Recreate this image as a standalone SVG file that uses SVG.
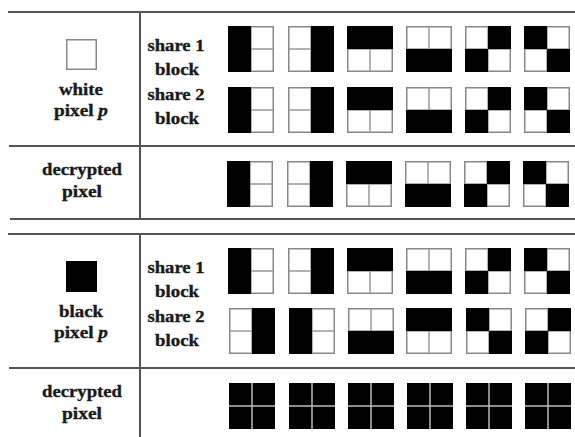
<svg xmlns="http://www.w3.org/2000/svg" xmlns:xlink="http://www.w3.org/1999/xlink" width="575" height="437" viewBox="0 0 575 437">
<style>
.t{font-family:"Liberation Serif","Times New Roman",serif;font-weight:bold;font-size:17px;fill:#1a1a1a;stroke:#1a1a1a;stroke-width:0.35;text-anchor:middle}
.rule{stroke:#555;stroke-width:2;fill:none}
.frame{fill:#fff;stroke:#888;stroke-width:1.5}
.grid{stroke:#999;stroke-width:1.5}
.lgrid{stroke:#bbb;stroke-width:1.5}
.k{fill:#000}
</style>
<defs>
<g id="base"><rect class="frame" x="0.75" y="0.75" width="44.5" height="44.5"/><line class="grid" x1="23" y1="0.75" x2="23" y2="45.25"/><line class="grid" x1="0.75" y1="23" x2="45.25" y2="23"/></g>
<g id="pL"><use href="#base"/><rect class="k" x="0" y="0" width="23" height="46"/></g>
<g id="pR"><use href="#base"/><rect class="k" x="23" y="0" width="23" height="46"/></g>
<g id="pT"><use href="#base"/><rect class="k" x="0" y="0" width="46" height="23"/></g>
<g id="pB"><use href="#base"/><rect class="k" x="0" y="23" width="46" height="23"/></g>
<g id="pA"><use href="#base"/><rect class="k" x="23" y="0" width="23" height="23"/><rect class="k" x="0" y="23" width="23" height="23"/></g>
<g id="pD"><use href="#base"/><rect class="k" x="0" y="0" width="23" height="23"/><rect class="k" x="23" y="23" width="23" height="23"/></g>
<g id="pF"><rect class="k" x="0" y="0" width="46" height="46"/><line class="lgrid" x1="23" y1="0" x2="23" y2="46"/><line class="lgrid" x1="0" y1="23" x2="46" y2="23"/></g>
</defs>

<g id="connectors">
<line class="rule" x1="8" y1="12" x2="575" y2="12"/>
<line class="rule" x1="9" y1="146" x2="575" y2="146"/>
<line class="rule" x1="10" y1="219" x2="575" y2="219"/>
<line class="rule" x1="140" y1="12" x2="140" y2="219"/>
<line class="rule" x1="8" y1="234" x2="575" y2="234"/>
<line class="rule" x1="9" y1="368" x2="575" y2="368"/>
<line class="rule" x1="140" y1="234" x2="140" y2="437"/>
</g>

<g id="white-pixel">
<rect x="66.75" y="39.75" width="29.5" height="29.5" fill="#fff" stroke="#888" stroke-width="1.5"/>
<text class="t" x="81" y="95" textLength="44" lengthAdjust="spacingAndGlyphs">white</text>
<text class="t" x="81" y="116" textLength="54" lengthAdjust="spacingAndGlyphs">pixel <tspan font-style="italic">p</tspan></text>
</g>
<g id="white-labels">
<text class="t" x="176" y="51" textLength="57" lengthAdjust="spacingAndGlyphs">share 1</text>
<text class="t" x="177" y="75" textLength="44" lengthAdjust="spacingAndGlyphs">block</text>
<text class="t" x="176" y="100" textLength="57" lengthAdjust="spacingAndGlyphs">share 2</text>
<text class="t" x="177" y="124" textLength="44" lengthAdjust="spacingAndGlyphs">block</text>
<text class="t" x="82" y="175" textLength="80" lengthAdjust="spacingAndGlyphs">decrypted</text>
<text class="t" x="82" y="197" textLength="40" lengthAdjust="spacingAndGlyphs">pixel</text>
</g>
<g id="white-share1">
<use href="#pL" x="228" y="26"/><use href="#pR" x="288" y="26"/><use href="#pT" x="347" y="26"/><use href="#pB" x="406" y="26"/><use href="#pA" x="465" y="26"/><use href="#pD" x="524" y="26"/>
</g>
<g id="white-share2">
<use href="#pL" x="228" y="87"/><use href="#pR" x="288" y="87"/><use href="#pT" x="347" y="87"/><use href="#pB" x="406" y="87"/><use href="#pA" x="465" y="87"/><use href="#pD" x="524" y="87"/>
</g>
<g id="white-decrypted">
<use href="#pL" x="227" y="161"/><use href="#pR" x="287" y="161"/><use href="#pT" x="346" y="161"/><use href="#pB" x="405" y="161"/><use href="#pA" x="464" y="161"/><use href="#pD" x="523" y="161"/>
</g>

<g id="black-pixel">
<rect x="66" y="261" width="31" height="31" fill="#000"/>
<text class="t" x="81" y="317" textLength="44" lengthAdjust="spacingAndGlyphs">black</text>
<text class="t" x="81" y="338" textLength="54" lengthAdjust="spacingAndGlyphs">pixel <tspan font-style="italic">p</tspan></text>
</g>
<g id="black-labels">
<text class="t" x="176" y="273" textLength="57" lengthAdjust="spacingAndGlyphs">share 1</text>
<text class="t" x="177" y="297" textLength="44" lengthAdjust="spacingAndGlyphs">block</text>
<text class="t" x="176" y="322" textLength="57" lengthAdjust="spacingAndGlyphs">share 2</text>
<text class="t" x="177" y="346" textLength="44" lengthAdjust="spacingAndGlyphs">block</text>
<text class="t" x="82" y="397" textLength="80" lengthAdjust="spacingAndGlyphs">decrypted</text>
<text class="t" x="82" y="419" textLength="40" lengthAdjust="spacingAndGlyphs">pixel</text>
</g>
<g id="black-share1">
<use href="#pL" x="228" y="248"/><use href="#pR" x="288" y="248"/><use href="#pT" x="347" y="248"/><use href="#pB" x="406" y="248"/><use href="#pA" x="465" y="248"/><use href="#pD" x="524" y="248"/>
</g>
<g id="black-share2">
<use href="#pR" x="229" y="308"/><use href="#pL" x="289" y="308"/><use href="#pB" x="348" y="308"/><use href="#pT" x="406" y="308"/><use href="#pD" x="466" y="308"/><use href="#pA" x="525" y="308"/>
</g>
<g id="black-decrypted">
<use href="#pF" x="229" y="383"/><use href="#pF" x="289" y="383"/><use href="#pF" x="348" y="383"/><use href="#pF" x="407" y="383"/><use href="#pF" x="466" y="383"/><use href="#pF" x="525" y="383"/>
</g>
</svg>
